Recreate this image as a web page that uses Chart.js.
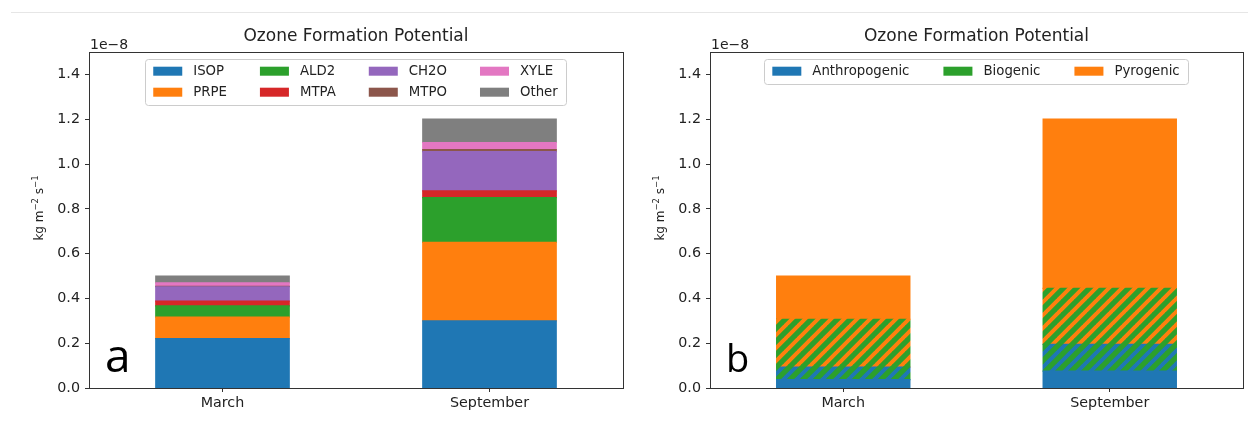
<!DOCTYPE html>
<html>
<head>
<meta charset="utf-8">
<title>Ozone Formation Potential</title>
<script src="https://cdn.jsdelivr.net/npm/chart.js@4.4.1/dist/chart.umd.min.js"></script>
<style>
  body { margin: 0; background: #fff; width: 1248px; height: 422px; overflow: hidden; position: relative; }
  .topline { position: absolute; left: 11px; right: 0; top: 12px; height: 1px; background: #e6e6e6; }
  .panel { position: absolute; top: 0; height: 422px; }
  #panelA { left: 0; width: 630px; }
  #panelB { left: 630px; width: 618px; }
</style>
</head>
<body>
<div class="topline"></div>
<div class="panel" id="panelA"><canvas id="chartA" width="630" height="422"></canvas></div>
<div class="panel" id="panelB"><canvas id="chartB" width="618" height="422"></canvas></div>
<script>
// データ（単位 1e-8 kg m-2 s-1）
const months = ['March', 'September'];
const yTicks = [0.0, 0.2, 0.4, 0.6, 0.8, 1.0, 1.2, 1.4];

// a: 化学種ごとの内訳
const isop = [0.22, 0.30];
const prpe = [0.096, 0.35];
const ald2 = [0.051, 0.20];
const mtpa = [0.021, 0.03];
const ch2o = [0.064, 0.175];
const mtpo = [0.002, 0.009];
const xyle = [0.015, 0.032];
const other = [0.031, 0.104];

// b: 発生源ごとの内訳（斜線部分は重なり）
const anthropogenic = [0.037, 0.075];
const anthroBiogenic = [0.056, 0.12];
const bioPyrogenic = [0.214, 0.25];
const pyrogenic = [0.193, 0.755];
const sourceLabels = ['Anthropogenic', 'Biogenic', 'Pyrogenic'];

const C = {
  blue: '#1f77b4', orange: '#ff7f0e', green: '#2ca02c', red: '#d62728',
  purple: '#9467bd', brown: '#8c564b', pink: '#e377c2', gray: '#7f7f7f'
};
const FONT = '"DejaVu Sans", sans-serif';
const AXIS = '#333333';
const TEXT = '#222222';

// 斜線パターン（'/' 方向）
function hatch(bg, fg) {
  const s = 13;
  const c = document.createElement('canvas');
  c.width = s; c.height = s;
  const g = c.getContext('2d');
  g.fillStyle = bg;
  g.fillRect(0, 0, s, s);
  g.strokeStyle = fg;
  g.lineWidth = 4;
  g.beginPath();
  for (const o of [-s, 0, s]) {
    g.moveTo(o - 1, s + 1);
    g.lineTo(o + s + 1, -1);
  }
  g.stroke();
  return g.createPattern(c, 'repeat');
}

// 上付き文字を含むy軸ラベル
function drawUnitLabel(ctx, x, y) {
  const parts = [['kg m', false], ['\u22122', true], [' s', false], ['\u22121', true]];
  const base = '12px ' + FONT, sup = '8.5px ' + FONT;
  let w = 0;
  parts.forEach(p => { ctx.font = p[1] ? sup : base; w += ctx.measureText(p[0]).width; });
  ctx.save();
  ctx.translate(x, y);
  ctx.rotate(-Math.PI / 2);
  ctx.textAlign = 'left';
  ctx.textBaseline = 'alphabetic';
  let px = -w / 2;
  parts.forEach(p => {
    ctx.font = p[1] ? sup : base;
    ctx.fillText(p[0], px, p[1] ? -1 : 4);
    px += ctx.measureText(p[0]).width;
  });
  ctx.restore();
}

// タイトル・凡例・枠・パネル文字を描く
const decorPlugin = {
  id: 'decor',
  afterDraw(chart, args, opts) {
    const { ctx, chartArea: a } = chart;
    const cx = (a.left + a.right) / 2;
    ctx.save();

    // 枠
    ctx.strokeStyle = AXIS;
    ctx.lineWidth = 1;
    ctx.strokeRect(Math.round(a.left) + 0.5, Math.round(a.top) + 0.5,
      Math.round(a.right - a.left), Math.round(a.bottom - a.top));

    ctx.fillStyle = TEXT;
    // タイトル
    ctx.font = '17px ' + FONT;
    ctx.textAlign = 'center';
    ctx.textBaseline = 'middle';
    ctx.fillText(opts.title, cx, a.top - 15.5);

    // オフセット表記
    ctx.font = '14px ' + FONT;
    ctx.textAlign = 'left';
    ctx.textBaseline = 'alphabetic';
    ctx.fillText('1e\u22128', a.left + 1, a.top - 3.5);

    // y軸ラベル
    drawUnitLabel(ctx, a.left - 50, 208);

    // パネル文字
    ctx.fillStyle = '#000';
    ctx.font = opts.letterSize + 'px "Open Sans", sans-serif';
    ctx.textAlign = 'left';
    ctx.textBaseline = 'alphabetic';
    ctx.fillText(opts.letter, a.left + 16, a.bottom - 16);

    // 凡例（列優先）
    const items = opts.legendItems ||
      chart.data.datasets.map(d => ({ label: d.label, color: d.backgroundColor }));
    const ncol = opts.ncol;
    const rows = Math.ceil(items.length / ncol);
    ctx.font = '13.3px ' + FONT;
    const sw = 29, gap = 11, colSp = opts.colSp, padL = 8, padR = 9, rowH = 21;
    const colW = [];
    for (let c = 0; c < ncol; c++) {
      let w = 0;
      for (let r = 0; r < rows; r++) {
        const it = items[c * rows + r];
        if (it) w = Math.max(w, ctx.measureText(it.label).width);
      }
      colW.push(w);
    }
    let total = padL + padR + colSp * (ncol - 1);
    colW.forEach(w => { total += sw + gap + w; });
    const x0 = cx - total / 2;
    const y0 = a.top + 6.5;
    const h = rows * rowH + 4;
    ctx.beginPath();
    ctx.roundRect(Math.round(x0) + 0.5, Math.round(y0) + 0.5, Math.round(total), h, 3);
    ctx.fillStyle = 'rgba(255,255,255,0.8)';
    ctx.fill();
    ctx.strokeStyle = '#cccccc';
    ctx.stroke();

    ctx.textBaseline = 'middle';
    let x = x0 + padL;
    for (let c = 0; c < ncol; c++) {
      for (let r = 0; r < rows; r++) {
        const it = items[c * rows + r];
        if (!it) continue;
        const cy = y0 + 12.7 + r * rowH;
        ctx.fillStyle = it.color;
        ctx.fillRect(x, cy - 4.5, sw, 9);
        ctx.fillStyle = TEXT;
        ctx.fillText(it.label, x + sw + gap, cy);
      }
      x += sw + gap + colW[c] + colSp;
    }
    ctx.restore();
  }
};

function makeScales(yWidth) {
  const grid = { display: true, drawOnChartArea: false, drawTicks: true, tickLength: 4, color: AXIS };
  return {
    x: {
      stacked: true,
      offset: true,
      grid: Object.assign({ offset: false }, grid),
      border: { display: true, color: AXIS, width: 1 },
      ticks: { color: TEXT, font: { family: FONT, size: 14.3 }, padding: 3, maxRotation: 0 },
      afterFit(s) { s.height = 34; }
    },
    y: {
      stacked: true,
      min: 0,
      max: 1.5,
      grid: grid,
      border: { display: true, color: AXIS, width: 1 },
      ticks: {
        stepSize: 0.2,
        includeBounds: false,
        color: TEXT,
        font: { family: FONT, size: 14.3 },
        padding: 5,
        callback: v => yTicks.some(t => Math.abs(t - v) < 1e-6) ? v.toFixed(1) : ''
      },
      afterFit(s) { s.width = yWidth; }
    }
  };
}

function bar(label, data, color) {
  return { label: label, data: data, backgroundColor: color, borderWidth: 0,
    inflateAmount: 0.6, barPercentage: 0.5, categoryPercentage: 1.0 };
}

// a
const chartA = new Chart(document.getElementById('chartA'), {
  type: 'bar',
  data: {
    labels: months,
    datasets: [
      bar('ISOP', isop, C.blue),
      bar('PRPE', prpe, C.orange),
      bar('ALD2', ald2, C.green),
      bar('MTPA', mtpa, C.red),
      bar('CH2O', ch2o, C.purple),
      bar('MTPO', mtpo, C.brown),
      bar('XYLE', xyle, C.pink),
      bar('Other', other, C.gray)
    ]
  },
  options: {
    responsive: false,
    animation: false,
    events: [],
    layout: { padding: { top: 52, right: 7, bottom: 0, left: 0 } },
    plugins: {
      legend: { display: false },
      tooltip: { enabled: false },
      decor: {
        title: 'Ozone Formation Potential',
        letter: 'a',
        letterSize: 46,
        ncol: 4,
        colSp: 33,
        legendItems: null
      }
    },
    scales: makeScales(89)
  },
  plugins: [decorPlugin]
});

// b
const sourceColors = [C.blue, C.green, C.orange];
const chartB = new Chart(document.getElementById('chartB'), {
  type: 'bar',
  data: {
    labels: months,
    datasets: [
      bar('Anthropogenic', anthropogenic, C.blue),
      bar('Anthropogenic + Biogenic', anthroBiogenic, hatch(C.green, C.blue)),
      bar('Biogenic + Pyrogenic', bioPyrogenic, hatch(C.green, C.orange)),
      bar('Pyrogenic', pyrogenic, C.orange)
    ]
  },
  options: {
    responsive: false,
    animation: false,
    events: [],
    layout: { padding: { top: 52, right: 5, bottom: 0, left: 0 } },
    plugins: {
      legend: { display: false },
      tooltip: { enabled: false },
      decor: {
        title: 'Ozone Formation Potential',
        letter: 'b',
        letterSize: 38,
        ncol: 3,
        colSp: 34,
        legendItems: sourceLabels.map((l, i) => ({ label: l, color: sourceColors[i] }))
      }
    },
    scales: makeScales(80)
  },
  plugins: [decorPlugin]
});
</script>
</body>
</html>
